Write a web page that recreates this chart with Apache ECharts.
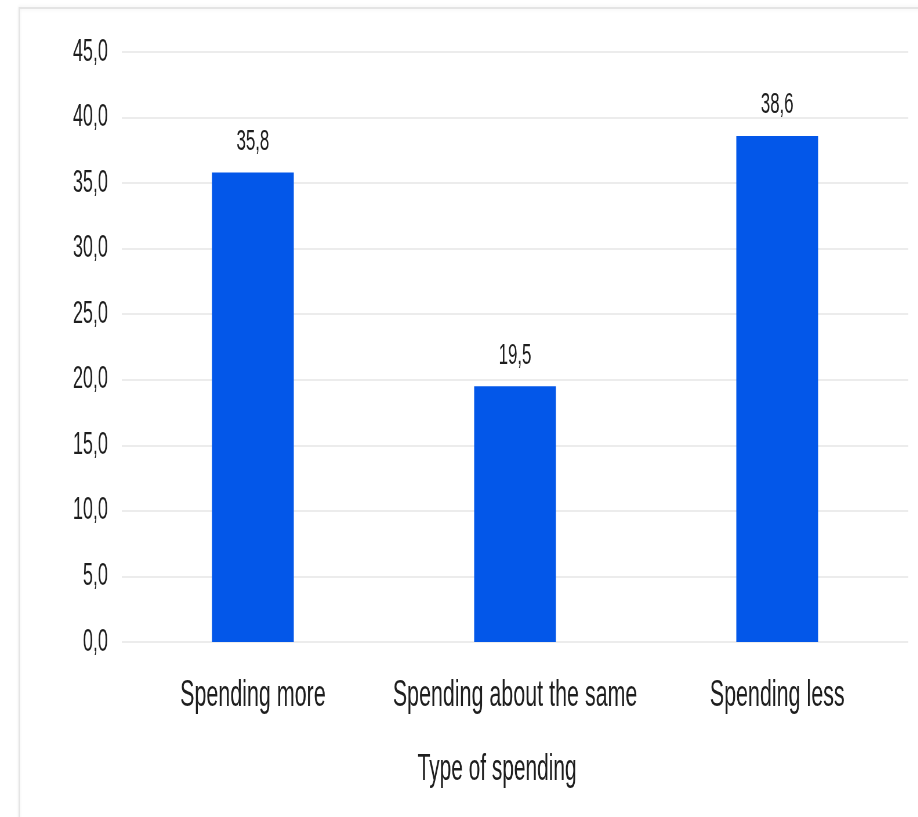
<!DOCTYPE html>
<html>
<head>
<meta charset="utf-8">
<script src="https://cdn.jsdelivr.net/npm/echarts@6/dist/echarts.min.js"></script>
<style>
  html, body { margin: 0; padding: 0; background: #fff; overflow: hidden; }
  #wrap { width: 918px; height: 817px; overflow: hidden; position: relative; }
  /* the chart is laid out wide and squeezed horizontally into the frame */
  #chart { width: 1583px; height: 817px; transform: scaleX(0.58); transform-origin: 0 0; }
</style>
</head>
<body>
<div id="wrap"><div id="chart"></div></div>
<script>
const categories = ['Spending more', 'Spending about the same', 'Spending less'];
const shares = [35.8, 19.5, 38.6];
const yTicks = { min: 0, max: 45, interval: 5 };
const titleText = 'Spending behaviour';
const xAxisTitle = 'Type of spending';

const fmt = v => Number(v).toFixed(1).replace('.', ',');
const FONT = 'Liberation Sans, Arial, Helvetica, sans-serif';

const chart = echarts.init(document.getElementById('chart'), null, { renderer: 'canvas' });
chart.setOption({
  backgroundColor: '#ffffff',
  animation: false,
  graphic: [
    {
      type: 'rect',
      shape: { x: 33, y: 8, width: 1700, height: 900 },
      style: { fill: 'none', stroke: '#e4e4e4', lineWidth: 2, shadowBlur: 4, shadowColor: 'rgba(0,0,0,0.08)' },
      z: 0
    },
    {
      type: 'text',
      x: 221,
      y: -2,
      style: { text: titleText, font: 'bold 86px ' + FONT, fill: '#111', verticalAlign: 'bottom' },
      z: 10
    }
  ],
  grid: { left: 210, right: 17, top: 52, bottom: 175 },
  xAxis: {
    type: 'category',
    data: categories,
    axisLine: { show: false },
    axisTick: { show: false },
    axisLabel: { color: '#1e1e1e', fontSize: 37, fontFamily: FONT, margin: 35, interval: 0 },
    name: xAxisTitle,
    nameLocation: 'middle',
    nameGap: 110,
    nameTextStyle: { color: '#1e1e1e', fontSize: 36, fontFamily: FONT, padding: [0, 62, 0, 0] }
  },
  yAxis: {
    type: 'value',
    min: yTicks.min,
    max: yTicks.max,
    interval: yTicks.interval,
    axisLine: { show: false },
    axisTick: { show: false },
    axisLabel: { color: '#1e1e1e', fontSize: 31, fontFamily: FONT, margin: 24, formatter: fmt },
    splitLine: { lineStyle: { color: '#ececec', width: 2 } }
  },
  series: [{
    type: 'bar',
    data: shares,
    barWidth: 141,
    itemStyle: { color: '#0357E9' },
    label: {
      show: true,
      position: 'top',
      distance: 16,
      color: '#1e1e1e',
      fontSize: 29,
      fontFamily: FONT,
      formatter: p => fmt(p.value)
    }
  }]
});
</script>
</body>
</html>
